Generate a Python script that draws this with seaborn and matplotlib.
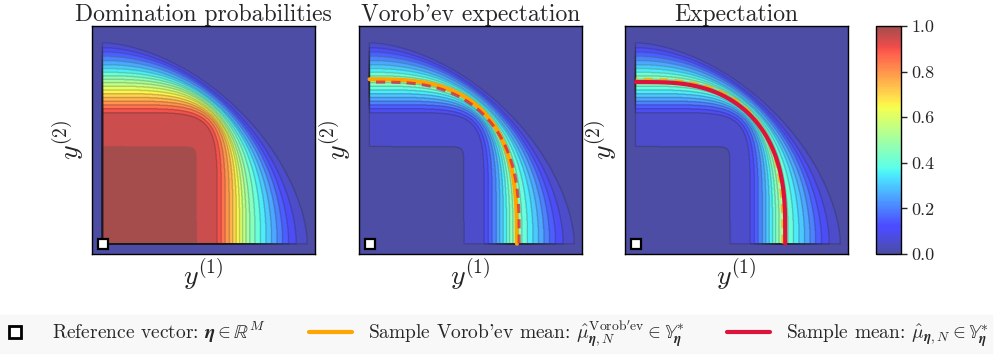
import numpy as np
import matplotlib
matplotlib.use("Agg")
import matplotlib.pyplot as plt
import seaborn as sns
from matplotlib.lines import Line2D

# ---- data -------------------------------------------------------------------
# sample Pareto fronts (outer -> inner): x-intercept, y-intercept, superellipse exponent
front_x_intercepts = [0.964, 0.912, 0.876, 0.848, 0.822, 0.796, 0.770, 0.744, 0.718, 0.694,
                      0.676, 0.660, 0.645, 0.630, 0.614, 0.597, 0.578, 0.560, 0.540, 0.444]
front_y_intercepts = [0.969, 0.946, 0.926, 0.905, 0.884, 0.864, 0.845, 0.827, 0.810, 0.793,
                      0.777, 0.760, 0.742, 0.724, 0.706, 0.688, 0.670, 0.651, 0.632, 0.468]
front_shapes = [1.7, 1.8, 1.9, 2.0, 2.1, 2.2, 2.35, 2.5, 2.7, 2.9,
                3.1, 3.3, 3.6, 3.9, 4.3, 4.8, 5.4, 6.0, 6.8, 25.0]
reference_vector = [0.0, 0.0]
vorobev_level = 0.5
panel_titles = ["Domination probabilities", "Vorob'ev expectation", "Expectation"]
cbar_ticks = [0.0, 0.2, 0.4, 0.6, 0.8, 1.0]
legend_labels = [
    r"Reference vector: $\boldsymbol{\eta} \in \mathbb{R}^M$",
    r"Sample Vorob'ev mean: $\hat{\mu}_{\boldsymbol{\eta},N}^{\mathrm{Vorob'ev}} \in \mathbb{Y}^*_{\boldsymbol{\eta}}$",
    r"Sample mean: $\hat{\mu}_{\boldsymbol{\eta},N} \in \mathbb{Y}^*_{\boldsymbol{\eta}}$",
]

# ---- style ------------------------------------------------------------------
sns.set_theme(style="ticks")
plt.rcParams["font.family"] = "serif"
plt.rcParams["font.serif"] = ["cmr10"]
plt.rcParams["mathtext.fontset"] = "cm"
plt.rcParams["axes.formatter.use_mathtext"] = True
plt.rcParams["axes.unicode_minus"] = False

# ---- fields -----------------------------------------------------------------
XMIN, XMAX, YMIN, YMAX = -0.05, 1.0, -0.05, 1.05
xs = np.linspace(XMIN, XMAX, 526)
ys = np.linspace(YMIN, YMAX, 551)
X, Y = np.meshgrid(xs, ys)
Xp, Yp = np.clip(X, 0, None), np.clip(Y, 0, None)
valid = (X >= reference_vector[0] - 1e-9) & (Y >= reference_vector[1] - 1e-9)

masks = []
for a, b, s in zip(front_x_intercepts, front_y_intercepts, front_shapes):
    masks.append(valid & ((Xp / a) ** s + (Yp / b) ** s <= 1.0))
masks = np.array(masks, dtype=float)
P = masks.mean(axis=0)
n_fronts = len(front_shapes)

t = np.linspace(0, np.pi / 2, 400)
curves_x = np.array([a * np.cos(t) ** (2.0 / s) for a, s in zip(front_x_intercepts, front_shapes)])
curves_y = np.array([b * np.sin(t) ** (2.0 / s) for b, s in zip(front_y_intercepts, front_shapes)])
mean_x, mean_y = curves_x.mean(axis=0), curves_y.mean(axis=0)

# Vorob'ev expectation: {P >= level} -> boundary is the corresponding sample front
vor_idx = int(round(vorobev_level * n_fronts)) - 1
vor_x, vor_y = curves_x[vor_idx], curves_y[vor_idx]
V = (P >= vorobev_level).astype(float)

# region dominated by the sample mean front
order = np.argsort(mean_x)
front_height = np.interp(X, mean_x[order], mean_y[order], left=mean_y.max(), right=-1.0)
M = (valid & (Y <= front_height)).astype(float)

F = [P, np.abs(V - P), np.abs(M - P)]
levels = [(np.arange(19) + 0.5) / 20, (np.arange(10) + 0.5) / 20, (np.arange(10) + 0.5) / 20]

# ---- figure -----------------------------------------------------------------
fig = plt.figure(figsize=(9.98, 3.58), dpi=100)
bottom, height = 0.2905, 0.6369
lefts = [0.0922, 0.3597, 0.6263]
width = 0.2234
axes = [fig.add_axes([l, bottom, width, height]) for l in lefts]
cax = fig.add_axes([0.8778, bottom, 0.0251, height])

ORANGE = "#FFA500"
CRIMSON = "#DC143C"

for i, ax in enumerate(axes):
    im = ax.imshow(F[i], extent=[XMIN, XMAX, YMIN, YMAX], origin="lower", cmap="jet",
                   vmin=0, vmax=1, alpha=0.7, aspect="auto", interpolation="bilinear")
    ax.contour(X, Y, F[i], levels=levels[i], colors="k", linewidths=1.0, alpha=0.22)
    if i == 1:
        sns.lineplot(x=vor_x, y=vor_y, sort=False, estimator=None,
                     color=ORANGE, lw=3, ax=ax)
        sns.lineplot(x=mean_x, y=mean_y, sort=False, estimator=None, color=CRIMSON,
                     lw=2.2, ls=(0, (3, 2)), alpha=0.7, ax=ax)
    if i == 2:
        sns.lineplot(x=vor_x, y=vor_y, sort=False, estimator=None,
                     color=ORANGE, lw=2.2, ls=(0, (3, 2)), alpha=0.7, ax=ax)
        sns.lineplot(x=mean_x, y=mean_y, sort=False, estimator=None, color=CRIMSON,
                     lw=3, ax=ax)
    ax.plot(reference_vector[0], reference_vector[1], marker="s", ms=7.5, mfc="white",
            mec="black", mew=1.6, ls="none", zorder=10, clip_on=False)
    ax.set_xlim(XMIN, XMAX)
    ax.set_ylim(YMIN, YMAX)
    ax.set_xticks([])
    ax.set_yticks([])
    for sp in ax.spines.values():
        sp.set_visible(True)
        sp.set_color("black")
        sp.set_linewidth(1.0)
    ax.set_title(panel_titles[i], fontsize=17, pad=3)
    ax.set_xlabel(r"$y^{(1)}$", fontsize=20, labelpad=2)
    ax.set_ylabel(r"$y^{(2)}$", fontsize=20, labelpad=4)

cb = fig.colorbar(im, cax=cax, ticks=cbar_ticks)
cb.ax.set_yticklabels([f"{v:.1f}" for v in cbar_ticks])
cb.ax.tick_params(labelsize=13, length=4, width=1, right=True, direction="out")
cb.outline.set_edgecolor("black")
cb.outline.set_linewidth(1.0)

handles = [
    Line2D([], [], marker="s", ls="none", mfc="white", mec="black", mew=2, ms=8),
    Line2D([], [], color=ORANGE, lw=3),
    Line2D([], [], color=CRIMSON, lw=3),
]
leg = fig.legend(handles, legend_labels, loc="lower center", bbox_to_anchor=(0.492, 0.014),
                 ncol=3, fontsize=14, frameon=True, fancybox=False, facecolor="#f7f7f7",
                 edgecolor="#f7f7f7", handlelength=2.2, columnspacing=2.24, borderpad=0.2,
                 borderaxespad=0.0)

fig.savefig("out.png", dpi=100)
